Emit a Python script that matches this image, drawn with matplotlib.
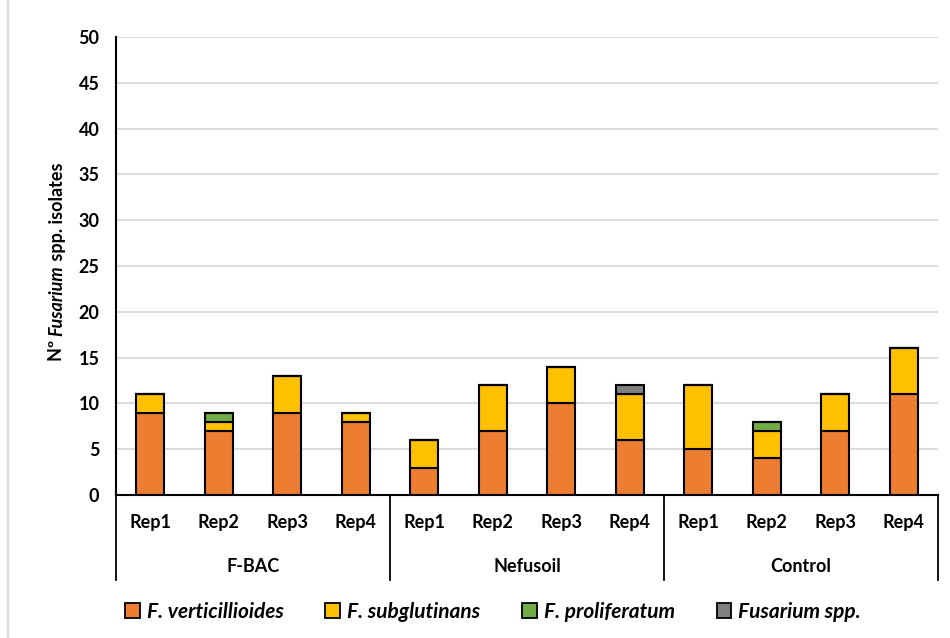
import numpy as np
import matplotlib
matplotlib.use("Agg")
import matplotlib.pyplot as plt
from matplotlib.patches import Patch
from matplotlib.lines import Line2D

# ─── Data ─────────────────────────────────────────────────────────────────────
groups = ["F-BAC", "Nefusoil", "Control"]
reps = ["Rep1", "Rep2", "Rep3", "Rep4"]
species = ["F. verticillioides", "F. subglutinans", "F. proliferatum", "Fusarium spp."]

verticillioides = [9, 7, 9, 8, 3, 7, 10, 6, 5, 4, 7, 11]
subglutinans = [2, 1, 4, 1, 3, 5, 4, 5, 7, 3, 4, 5]
proliferatum = [0, 1, 0, 0, 0, 0, 0, 0, 0, 1, 0, 0]
fusarium_spp = [0, 0, 0, 0, 0, 0, 0, 1, 0, 0, 0, 0]

colors = ["#ED7D31", "#FFC000", "#70AD47", "#808080"]
FONT = "Lato"
FS = 13

# ─── Figure ───────────────────────────────────────────────────────────────────
fig = plt.figure(figsize=(9.5, 6.38), dpi=100)
ax = fig.add_axes([116 / 950, 1 - 495 / 638, 822 / 950, 458 / 638])

x = np.arange(len(verticillioides))
bottom = np.zeros(len(x))
for vals, col, name in zip([verticillioides, subglutinans, proliferatum, fusarium_spp],
                           colors, species):
    vals = np.array(vals, dtype=float)
    ax.bar(x, vals, width=0.41, bottom=bottom, color=col, edgecolor="black",
           linewidth=1.5, label=name, zorder=3)
    bottom += vals

ax.set_xlim(-0.5, len(x) - 0.5)
ax.set_ylim(0, 50)
ax.set_yticks(np.arange(0, 51, 5))
ax.yaxis.grid(True, color="#D9D9D9", lw=1.3, zorder=0)
ax.tick_params(axis="y", length=0, pad=12)
ax.tick_params(axis="x", length=0, labelbottom=False)
for lab in ax.get_yticklabels():
    lab.set_fontfamily(FONT)
    lab.set_fontweight("bold")
    lab.set_fontsize(FS)

for s in ["top", "right", "bottom"]:
    ax.spines[s].set_visible(False)
ax.spines["left"].set_linewidth(1.5)

# ── Multi-level category axis ──
tr = ax.get_xaxis_transform()
ax.plot([-0.5, len(x) - 0.5], [0, 0], color="black", lw=1.5, transform=tr,
        clip_on=False, zorder=4)
for b in [-0.5, 3.5, 7.5, 11.5]:
    ax.add_line(Line2D([b, b], [0, -0.186], color="black", lw=1.3,
                       transform=tr, clip_on=False))
for i in x:
    ax.text(i, -0.059, reps[i % 4], transform=tr, ha="center", va="center",
            fontfamily=FONT, fontweight="bold", fontsize=FS)
for g, name in enumerate(groups):
    ax.text(g * 4 + 1.5, -0.157, name, transform=tr, ha="center", va="center",
            fontfamily=FONT, fontweight="bold", fontsize=FS)

# ── Y label: "Nº Fusarium spp. isolates" with italic genus ──
parts = [("Nº ", "normal"), ("Fusarium", "italic"), (" spp. isolates", "normal")]
fig.canvas.draw()
renderer = fig.canvas.get_renderer()
widths = []
for txt, st in parts:
    t = fig.text(0, 0, txt, fontfamily=FONT, fontweight="bold", style=st,
                 fontsize=FS)
    widths.append(t.get_window_extent(renderer).width)
    t.remove()
total = sum(widths)
y0 = (638 - 262) - total / 2
for (txt, st), w in zip(parts, widths):
    fig.text(57 / 950, y0 / 638, txt, rotation=90, ha="left", va="center",
             fontfamily=FONT, fontweight="bold", style=st, fontsize=FS,
             rotation_mode="anchor")
    y0 += w

# ── Legend ──
handles = [Patch(facecolor=c, edgecolor="black", linewidth=1.3) for c in colors]
fig.legend(handles, species, loc="center", bbox_to_anchor=(493 / 950, 1 - 612 / 638),
           ncol=4, frameon=False, handlelength=0.7, handleheight=0.7,
           handletextpad=0.35, columnspacing=2.0,
           prop={"family": FONT, "weight": "bold", "style": "italic", "size": 15})

# chart-area border line on left
fig.add_artist(Line2D([8 / 950, 8 / 950], [0, 1], color="#D9D9D9", lw=1.5))

fig.savefig("out.png", dpi=100)
